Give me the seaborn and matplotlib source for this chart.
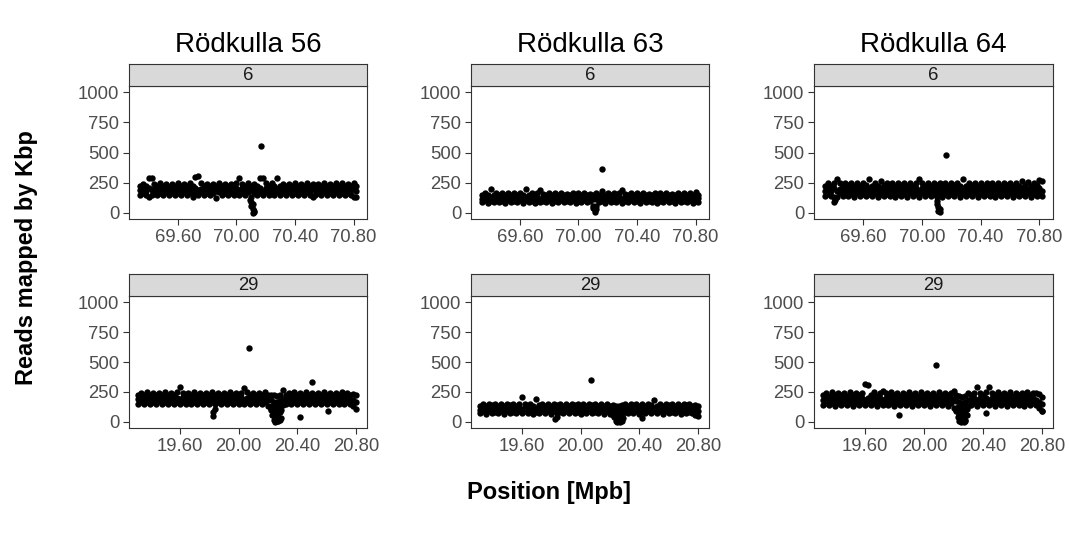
import matplotlib
matplotlib.use("Agg")
import matplotlib.pyplot as plt
import pandas as pd
import seaborn as sns

# ---------------------------------------------------------------- data
samples = ["Rödkulla 56", "Rödkulla 63", "Rödkulla 64"]
chromosomes = ["6", "29"]

chr6_ticks = [69.6, 70.0, 70.4, 70.8]
chr29_ticks = [19.6, 20.0, 20.4, 20.8]
read_ticks = [0, 250, 500, 750, 1000]

# window positions (Mbp)
pos_chr6 = [
    69.34, 69.36, 69.38, 69.40, 69.42, 69.44, 69.46, 69.48, 69.50, 69.52, 69.54, 69.56, 69.58, 69.60, 69.62,
    69.64, 69.66, 69.68, 69.70, 69.72, 69.74, 69.76, 69.78, 69.80, 69.82, 69.84, 69.86, 69.88, 69.90, 69.92,
    69.94, 69.96, 69.98, 70.00, 70.02, 70.04, 70.06, 70.08, 70.10, 70.12, 70.14, 70.16, 70.18, 70.20, 70.22,
    70.24, 70.26, 70.28, 70.30, 70.32, 70.34, 70.36, 70.38, 70.40, 70.42, 70.44, 70.46, 70.48, 70.50, 70.52,
    70.54, 70.56, 70.58, 70.60, 70.62, 70.64, 70.66, 70.68, 70.70, 70.72, 70.74, 70.76, 70.78, 70.80, 70.82,
]
pos_chr29 = [
    19.32, 19.34, 19.36, 19.38, 19.40, 19.42, 19.44, 19.46, 19.48, 19.50, 19.52, 19.54, 19.56, 19.58, 19.60,
    19.62, 19.64, 19.66, 19.68, 19.70, 19.72, 19.74, 19.76, 19.78, 19.80, 19.82, 19.84, 19.86, 19.88, 19.90,
    19.92, 19.94, 19.96, 19.98, 20.00, 20.02, 20.04, 20.06, 20.08, 20.10, 20.12, 20.14, 20.16, 20.18, 20.20,
    20.22, 20.24, 20.26, 20.28, 20.30, 20.32, 20.34, 20.36, 20.38, 20.40, 20.42, 20.44, 20.46, 20.48, 20.50,
    20.52, 20.54, 20.56, 20.58, 20.60, 20.62, 20.64, 20.66, 20.68, 20.70, 20.72, 20.74, 20.76, 20.78, 20.80,
]

# reads per Kbp: three sub-windows per bin (low / middle / high read count)
r56_chr6_lo = [
    150, 168, 146, 130, 152, 170, 148, 166, 150, 172, 146, 168, 152, 166, 148,
    170, 148, 166, 132, 168, 150, 172, 146, 166, 152, 168, 126, 170, 148, 166,
    150, 168, 146, 170, 152, 166, 148, 172, 130, 168, 150, 166, 146, 170, 152,
    168, 148, 170, 152, 166, 146, 172, 150, 168, 148, 166, 152, 170, 146, 132,
    150, 168, 146, 170, 152, 166, 148, 172, 150, 168, 146, 166, 152, 132, 128,
]
r56_chr6_mid = [
    186, 204, 182, 206, 188, 202, 184, 208, 186, 204, 190, 202, 184, 206, 188,
    204, 186, 208, 182, 206, 188, 202, 184, 204, 190, 206, 184, 202, 188, 208,
    186, 202, 184, 206, 188, 204, 182, 208, 186, 202, 190, 206, 184, 204, 188,
    206, 184, 202, 188, 208, 186, 204, 182, 206, 188, 202, 186, 208, 184, 204,
    188, 206, 184, 202, 186, 208, 182, 204, 188, 206, 184, 202, 186, 204, 184,
]
r56_chr6_hi = [
    222, 240, 226, 288, 292, 238, 220, 244, 224, 240, 218, 242, 226, 246, 222,
    242, 224, 248, 226, 300, 305, 246, 220, 240, 224, 242, 220, 246, 222, 240,
    224, 242, 220, 244, 290, 240, 226, 248, 222, 240, 224, 285, 292, 246, 222,
    248, 224, 290, 226, 242, 220, 240, 224, 246, 222, 240, 226, 244, 222, 240,
    224, 242, 226, 246, 220, 240, 224, 246, 222, 244, 220, 240, 226, 250, 222,
]
r56_chr6_extra_pos = [70.09, 70.10, 70.10, 70.11, 70.11, 70.12, 70.12, 70.11, 70.17]
r56_chr6_extra_reads = [110, 90, 60, 75, 35, 20, 5, 0, 550]

r56_chr29_lo = [
    152, 170, 148, 166, 150, 168, 146, 172, 148, 164, 150, 170, 146, 168, 150,
    166, 148, 170, 150, 164, 146, 168, 152, 166, 148, 170, 146, 166, 150, 168,
    148, 166, 150, 170, 146, 168, 152, 164, 148, 170, 146, 166, 150, 168, 130,
    110, 95, 90, 100, 140, 148, 170, 146, 166, 150, 168, 148, 170, 146, 166,
    148, 168, 150, 166, 146, 170, 148, 164, 150, 168, 146, 166, 148, 130, 110,
]
r56_chr29_mid = [
    188, 206, 184, 208, 186, 204, 190, 206, 184, 202, 188, 208, 186, 204, 190,
    206, 184, 204, 188, 208, 186, 202, 190, 206, 184, 204, 188, 208, 186, 202,
    188, 206, 184, 204, 190, 208, 186, 202, 188, 206, 184, 204, 190, 206, 180,
    180, 170, 165, 175, 190, 186, 206, 184, 204, 188, 208, 186, 202, 190, 206,
    186, 204, 188, 206, 184, 202, 190, 208, 186, 204, 188, 206, 184, 186, 170,
]
r56_chr29_hi = [
    226, 244, 222, 246, 224, 242, 228, 244, 222, 248, 226, 242, 224, 246, 290,
    244, 226, 242, 222, 246, 224, 244, 228, 242, 224, 246, 222, 244, 226, 242,
    224, 246, 222, 244, 228, 242, 285, 246, 224, 242, 226, 244, 222, 246, 228,
    228, 222, 218, 226, 265, 226, 244, 224, 246, 222, 242, 226, 248, 224, 244,
    226, 242, 224, 246, 222, 244, 228, 242, 224, 246, 222, 240, 226, 232, 228,
]
r56_chr29_extra_pos = [19.83, 19.83, 19.84, 20.22, 20.23, 20.24, 20.24, 20.25, 20.25, 20.26, 20.26,
                       20.27, 20.27, 20.28, 20.28, 20.29, 20.29, 20.23, 20.25, 20.27,
                       20.07, 20.50, 20.42, 20.61]
r56_chr29_extra_reads = [50, 80, 110, 100, 60, 20, 70, 0, 40, 10, 60,
                         5, 45, 20, 80, 30, 100, 130, 125, 135,
                         618, 336, 42, 95]

r63_chr6_lo = [
    88, 104, 86, 102, 90, 105, 88, 100, 86, 104, 90, 102, 88, 105, 86,
    104, 90, 102, 86, 105, 88, 100, 90, 104, 86, 102, 88, 105, 90, 100,
    88, 104, 86, 102, 90, 105, 88, 100, 60, 55, 90, 102, 86, 104, 88,
    102, 88, 105, 86, 100, 90, 104, 88, 102, 86, 105, 90, 100, 88, 104,
    86, 102, 90, 104, 88, 100, 86, 105, 90, 102, 88, 104, 86, 100, 90,
]
r63_chr6_mid = [
    118, 134, 116, 132, 120, 135, 118, 130, 116, 134, 120, 132, 118, 135, 116,
    134, 120, 132, 116, 135, 118, 130, 120, 134, 116, 132, 118, 135, 120, 130,
    118, 134, 116, 132, 120, 135, 118, 130, 118, 115, 120, 132, 116, 134, 118,
    132, 118, 135, 116, 130, 120, 134, 118, 132, 116, 135, 120, 130, 118, 134,
    116, 132, 120, 134, 118, 130, 116, 135, 120, 132, 118, 134, 116, 130, 120,
]
r63_chr6_hi = [
    148, 164, 146, 200, 150, 165, 148, 162, 146, 164, 150, 162, 148, 165, 146,
    195, 150, 162, 146, 165, 190, 160, 150, 164, 146, 162, 148, 165, 150, 160,
    148, 164, 146, 162, 150, 165, 148, 160, 148, 162, 150, 182, 146, 164, 148,
    162, 148, 165, 190, 160, 150, 164, 148, 162, 146, 165, 150, 160, 148, 164,
    146, 162, 150, 164, 148, 160, 146, 165, 150, 162, 148, 164, 146, 175, 150,
]
r63_chr6_extra_pos = [70.10, 70.11, 70.11, 70.12, 70.16]
r63_chr6_extra_reads = [40, 25, 10, 30, 360]

r63_chr29_lo = [
    72, 88, 70, 90, 74, 86, 72, 88, 70, 90, 74, 86, 72, 88, 74,
    88, 72, 90, 70, 86, 74, 88, 72, 90, 70, 88, 74, 86, 72, 90,
    72, 88, 74, 86, 70, 90, 72, 88, 74, 86, 72, 90, 70, 88, 70,
    60, 55, 50, 58, 86, 72, 90, 74, 88, 70, 86, 72, 90, 74, 88,
    72, 88, 70, 90, 74, 86, 72, 88, 70, 90, 74, 86, 72, 60, 50,
]
r63_chr29_mid = [
    104, 120, 102, 122, 106, 118, 104, 120, 102, 122, 106, 118, 104, 120, 106,
    120, 104, 122, 102, 118, 106, 120, 104, 122, 102, 120, 106, 118, 104, 122,
    104, 120, 106, 118, 102, 122, 104, 120, 106, 118, 104, 122, 102, 120, 104,
    100, 98, 95, 100, 118, 104, 122, 106, 120, 102, 118, 104, 122, 106, 120,
    104, 120, 102, 122, 106, 118, 104, 120, 102, 122, 106, 118, 104, 100, 90,
]
r63_chr29_hi = [
    136, 152, 134, 154, 138, 150, 136, 152, 134, 154, 138, 150, 136, 152, 205,
    152, 136, 154, 134, 190, 138, 152, 136, 154, 134, 152, 138, 150, 136, 154,
    136, 152, 138, 150, 134, 154, 136, 152, 138, 150, 136, 154, 134, 152, 136,
    140, 136, 132, 138, 150, 136, 154, 138, 152, 134, 150, 136, 154, 138, 185,
    136, 152, 134, 154, 138, 150, 136, 152, 134, 154, 138, 150, 136, 140, 130,
]
r63_chr29_extra_pos = [19.83, 19.84, 20.23, 20.24, 20.25, 20.26, 20.27, 20.28, 20.29,
                       20.25, 20.27, 20.42, 20.07]
r63_chr29_extra_reads = [22, 45, 40, 10, 0, 5, 0, 10, 30, 25, 20, 36, 347]

r64_chr6_lo = [
    138, 160, 140, 130, 136, 162, 138, 158, 140, 160, 136, 162, 138, 158, 140,
    160, 138, 162, 136, 158, 140, 160, 138, 162, 128, 158, 140, 160, 136, 162,
    138, 160, 136, 162, 140, 158, 138, 160, 130, 162, 136, 158, 140, 160, 138,
    162, 136, 158, 140, 160, 138, 162, 136, 158, 140, 160, 138, 162, 136, 158,
    140, 160, 138, 162, 136, 158, 140, 160, 138, 162, 136, 158, 140, 160, 138,
]
r64_chr6_mid = [
    182, 204, 180, 206, 184, 202, 182, 204, 180, 206, 184, 202, 182, 204, 180,
    206, 182, 202, 184, 204, 180, 206, 182, 202, 184, 204, 180, 206, 182, 202,
    184, 204, 180, 206, 182, 202, 184, 204, 182, 200, 180, 206, 182, 204, 184,
    202, 182, 204, 180, 206, 184, 202, 182, 204, 180, 206, 184, 202, 182, 204,
    180, 206, 182, 202, 184, 204, 180, 206, 182, 202, 184, 204, 180, 206, 182,
]
r64_chr6_hi = [
    226, 248, 224, 250, 278, 246, 226, 248, 228, 250, 224, 246, 226, 248, 228,
    280, 226, 250, 224, 262, 228, 246, 226, 248, 224, 250, 228, 246, 226, 248,
    224, 246, 280, 250, 226, 248, 224, 246, 228, 250, 226, 248, 224, 246, 228,
    248, 226, 280, 224, 246, 228, 250, 226, 248, 224, 246, 228, 250, 226, 248,
    226, 246, 228, 250, 224, 248, 226, 262, 228, 258, 224, 250, 228, 270, 265,
]
r64_chr6_extra_pos = [69.40, 69.41, 70.10, 70.10, 70.11, 70.11, 70.12, 70.12, 70.165]
r64_chr6_extra_reads = [88, 110, 100, 70, 50, 20, 35, 5, 478]

r64_chr29_lo = [
    138, 160, 140, 158, 136, 162, 138, 160, 140, 158, 136, 160, 138, 162, 140,
    158, 138, 160, 136, 162, 140, 158, 138, 160, 136, 162, 140, 158, 138, 160,
    136, 160, 138, 162, 140, 158, 136, 160, 138, 162, 140, 158, 136, 160, 120,
    100, 90, 85, 95, 130, 138, 160, 136, 158, 140, 162, 138, 160, 136, 158,
    140, 160, 136, 158, 138, 162, 140, 158, 136, 160, 138, 158, 138, 120, 95,
]
r64_chr29_mid = [
    180, 202, 178, 204, 182, 200, 180, 202, 178, 204, 182, 200, 180, 202, 182,
    202, 180, 204, 178, 200, 182, 202, 180, 204, 178, 200, 182, 202, 180, 204,
    180, 202, 182, 200, 178, 204, 180, 202, 182, 200, 178, 204, 180, 202, 180,
    175, 165, 160, 170, 180, 182, 202, 180, 204, 178, 200, 182, 202, 180, 204,
    182, 200, 180, 202, 178, 204, 182, 200, 180, 202, 178, 198, 186, 170, 150,
]
r64_chr29_hi = [
    222, 244, 220, 246, 224, 242, 222, 244, 220, 246, 224, 242, 222, 244, 315,
    305, 222, 246, 220, 244, 262, 242, 222, 246, 224, 244, 220, 242, 224, 246,
    222, 244, 220, 246, 224, 242, 222, 244, 220, 246, 224, 242, 222, 244, 255,
    225, 215, 210, 220, 242, 222, 244, 290, 242, 224, 246, 290, 244, 222, 246,
    224, 242, 222, 246, 220, 244, 224, 242, 222, 246, 224, 240, 240, 230, 210,
]
r64_chr29_extra_pos = [19.83, 20.22, 20.23, 20.24, 20.25, 20.26, 20.27, 20.28, 20.29,
                       20.24, 20.26, 20.28, 20.23, 20.25, 20.27, 20.29, 20.24, 20.26, 20.28,
                       20.42, 20.80, 20.08]
r64_chr29_extra_reads = [56, 90, 40, 5, 0, 10, 0, 5, 60, 50, 30, 20, 125, 120, 130, 110, 70, 75, 65,
                         72, 95, 473]

panels = {
    ("Rödkulla 56", "6"): (pos_chr6, [r56_chr6_lo, r56_chr6_mid, r56_chr6_hi], r56_chr6_extra_pos, r56_chr6_extra_reads),
    ("Rödkulla 56", "29"): (pos_chr29, [r56_chr29_lo, r56_chr29_mid, r56_chr29_hi], r56_chr29_extra_pos, r56_chr29_extra_reads),
    ("Rödkulla 63", "6"): (pos_chr6, [r63_chr6_lo, r63_chr6_mid, r63_chr6_hi], r63_chr6_extra_pos, r63_chr6_extra_reads),
    ("Rödkulla 63", "29"): (pos_chr29, [r63_chr29_lo, r63_chr29_mid, r63_chr29_hi], r63_chr29_extra_pos, r63_chr29_extra_reads),
    ("Rödkulla 64", "6"): (pos_chr6, [r64_chr6_lo, r64_chr6_mid, r64_chr6_hi], r64_chr6_extra_pos, r64_chr6_extra_reads),
    ("Rödkulla 64", "29"): (pos_chr29, [r64_chr29_lo, r64_chr29_mid, r64_chr29_hi], r64_chr29_extra_pos, r64_chr29_extra_reads),
}

frames = []
for (sample, chrom), (pos, bands, xpos, xreads) in panels.items():
    for vals in bands:
        frames.append(pd.DataFrame({"sample": sample, "chrom": chrom, "pos": pos, "reads": vals}))
    frames.append(pd.DataFrame({"sample": sample, "chrom": chrom, "pos": xpos, "reads": xreads}))
df = pd.concat(frames, ignore_index=True)

# ---------------------------------------------------------------- style
sns.set_theme(style="white")
plt.rcParams["font.family"] = ["Liberation Sans", "DejaVu Sans"]

W, H = 1069, 535
fig = plt.figure(figsize=(W / 100, H / 100), dpi=100)


def frac(x0, y0, x1, y1):
    """pixel box (top-left origin) -> figure fraction rect"""
    return [x0 / W, 1 - y1 / H, (x1 - x0) / W, (y1 - y0) / H]


col_left = [129, 471, 814]
col_right = [367, 709, 1053]
row_top = [86, 296]
row_bottom = [219, 428]
strip_h = 22
border = "#333333"

for ci, sample in enumerate(samples):
    cx = (col_left[ci] + col_right[ci]) / 2
    fig.text(cx / W, 1 - 45 / H, sample, ha="center", va="center", fontsize=20, color="black")
    for ri, chrom in enumerate(chromosomes):
        ax = fig.add_axes(frac(col_left[ci], row_top[ri], col_right[ci], row_bottom[ri]))
        sub = df[(df["sample"] == sample) & (df["chrom"] == chrom)]
        sns.scatterplot(data=sub, x="pos", y="reads", ax=ax, color="black",
                        s=21, linewidth=0, legend=False)
        if chrom == "6":
            ax.set_xlim(69.266, 70.892)
            ticks = chr6_ticks
        else:
            ax.set_xlim(19.256, 20.873)
            ticks = chr29_ticks
        ax.set_xticks(ticks)
        ax.set_xticklabels([f"{t:.2f}" for t in ticks])
        ax.set_ylim(-50, 1050)
        ax.set_yticks(read_ticks)
        ax.set_yticklabels([str(t) for t in read_ticks])
        ax.set_xlabel("")
        ax.set_ylabel("")
        ax.grid(False)
        ax.tick_params(axis="both", which="both", direction="out", length=4.5, width=0.8,
                       color=border, labelsize=13.3, labelcolor="#4D4D4D", pad=2.5,
                       bottom=True, left=True)
        for sp in ax.spines.values():
            sp.set_color(border)
            sp.set_linewidth(0.8)

        # facet strip
        sax = fig.add_axes(frac(col_left[ci], row_top[ri] - strip_h, col_right[ci], row_top[ri]))
        sax.set_facecolor("#D9D9D9")
        sax.set_xticks([])
        sax.set_yticks([])
        for sp in sax.spines.values():
            sp.set_color(border)
            sp.set_linewidth(0.8)
        sax.text(0.5, 0.5, chrom, ha="center", va="center", fontsize=13.3,
                 color="#1A1A1A", transform=sax.transAxes)

fig.text(27 / W, 1 - 258 / H, "Reads mapped by Kbp", rotation=90, ha="center", va="center",
         fontsize=17, fontweight="bold", color="black")
fig.text(549 / W, 1 - 493 / H, "Position [Mpb]", ha="center", va="center",
         fontsize=17, fontweight="bold", color="black")

fig.savefig("out.png", dpi=100, facecolor="white")
